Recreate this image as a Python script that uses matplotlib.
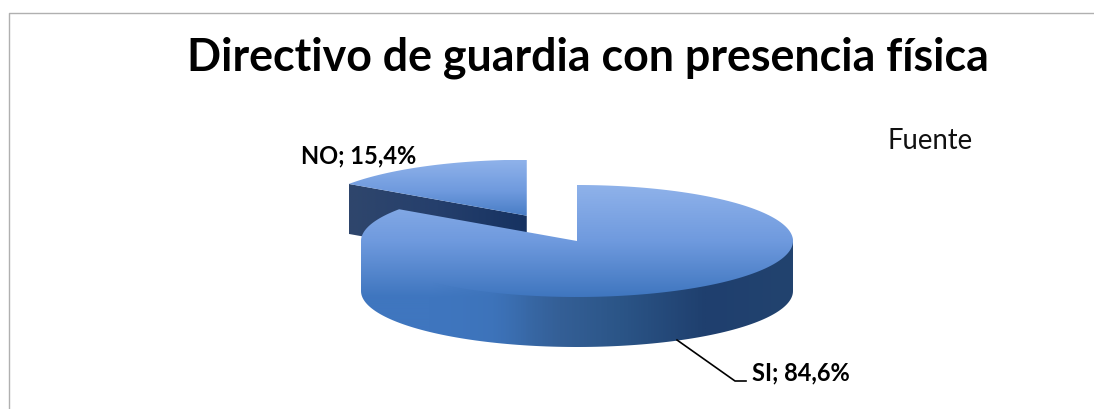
import numpy as np
import matplotlib.pyplot as plt
from matplotlib.colors import LinearSegmentedColormap
from matplotlib.patches import Polygon

labels = ['SI', 'NO']
shares = [84.6, 15.4]
label_texts = ['SI; 84,6%', 'NO; 15,4%']

# geometry of the fake 3d pie, in image pixels
cx, cy = 577, 241
rx, ry = 216, 56
depth = 50
explode = 0.5

plt.rcParams['font.family'] = ['Lato', 'DejaVu Sans']

fig = plt.figure(figsize=(10.94, 4.09), dpi=100)
ax = fig.add_axes([0, 0, 1, 1])
ax.set_xlim(0, 1094)
ax.set_ylim(409, 0)
ax.axis('off')

top_cmap = LinearSegmentedColormap.from_list('top', ['#8fb2ea', '#6f9ade', '#3f76bf'])
side_cmap = LinearSegmentedColormap.from_list(
    'side', [(0, '#3f76bf'), (0.3, '#3c72b8'), (0.46, '#345f96'), (0.6, '#2b5587'),
             (0.8, '#1f3f6e'), (1, '#22436f')])
cut_cmap = LinearSegmentedColormap.from_list('cut', ['#2f466c', '#253f6c', '#163261'])


def ell(angle, x0, y0):
    # angle in degrees, clockwise from 12 o'clock
    a = np.radians(angle)
    return x0 + rx * np.sin(a), y0 - ry * np.cos(a)


def gradient(poly, img, extent, cmap=None, zorder=2):
    patch = Polygon(poly, closed=True, facecolor='none', edgecolor='none')
    ax.add_patch(patch)
    im = ax.imshow(img, cmap=cmap, extent=extent, aspect='auto', zorder=zorder, interpolation='bilinear')
    im.set_clip_path(patch)


vert = np.linspace(0, 1, 256).reshape(-1, 1)
horiz = np.linspace(0, 1, 256).reshape(1, -1)

sweep = [s / sum(shares) * 360 for s in shares]
end_si = sweep[0]

# NO slice, pulled out along its middle angle
mid = end_si + sweep[1] / 2
nx = cx + explode * rx * np.sin(np.radians(mid))
ny = cy - explode * ry * np.cos(np.radians(mid)) - 0.5
angs = np.linspace(end_si, 360, 60)
ex, ey = ell(angs, nx, ny)

# cut face of the NO slice
lx, ly = ell(end_si, nx, ny)
cut = [(nx, ny), (lx, ly), (lx, ly + depth), (nx, ny + depth)]
gradient(cut, horiz, [lx, nx, ny + depth, ly], cmap=cut_cmap, zorder=1)
no_top = np.column_stack([np.r_[nx, ex], np.r_[ny, ey]])
gradient(no_top, vert, [nx - rx, nx + 10, ny + 6, ny - ry], cmap=top_cmap, zorder=1.5)

# SI slice: side wall first, then the top face
# the wall's left end takes the colours of the top face, so the two run together
angs = np.linspace(90, 270, 120)
sx, sy = ell(angs, cx, cy)
band = np.column_stack([np.r_[sx, sx[::-1]], np.r_[sy - 4, sy[::-1] + depth]])
ny_img, nx_img = 200, 432
y0, y1 = cy - 10, cy + ry + depth
yy = np.linspace(y0, y1, ny_img)
xx = np.linspace(cx - rx, cx + rx, nx_img)
over = top_cmap(np.clip((yy - (cy - ry)) / (2 * ry), 0, 1))[:, :3]
under = side_cmap((xx - xx[0]) / (xx[-1] - xx[0]))[:, :3]
w = np.clip((530 - xx) / 100, 0, 1)[None, :, None]
img = w * over[:, None, :] + (1 - w) * under[None, :, :]
gradient(band, img, [cx - rx, cx + rx, y1, y0], zorder=2)

angs = np.linspace(0, end_si, 200)
tx, ty = ell(angs, cx, cy)
si_top = np.column_stack([np.r_[cx, tx], np.r_[cy, ty]])
gradient(si_top, vert, [cx - rx, cx + rx, cy + ry, cy - ry], cmap=top_cmap, zorder=3)

# leader line
ax.plot([677, 735, 746], [340, 381, 381], color='black', lw=1.2, zorder=4)

ax.text(588, 58, 'Directivo de guardia con presencia física', fontsize=32.2, fontweight='bold',
        ha='center', va='center', color='black')
ax.text(888, 141, 'Fuente', fontsize=19.8, ha='left', va='center', color='#111111')
ax.text(752, 373, label_texts[0], fontsize=17, fontweight='bold', ha='left', va='center')
ax.text(301, 156, label_texts[1], fontsize=17, fontweight='bold', ha='left', va='center')

# chart frame: only top and left show in the crop
ax.plot([8.5, 8.5, 1094], [409, 12.5, 12.5], color='#b0b0b0', lw=1.0, zorder=5)

ax.set_xlim(0, 1094)
ax.set_ylim(409, 0)
fig.savefig('out.png', dpi=100)
